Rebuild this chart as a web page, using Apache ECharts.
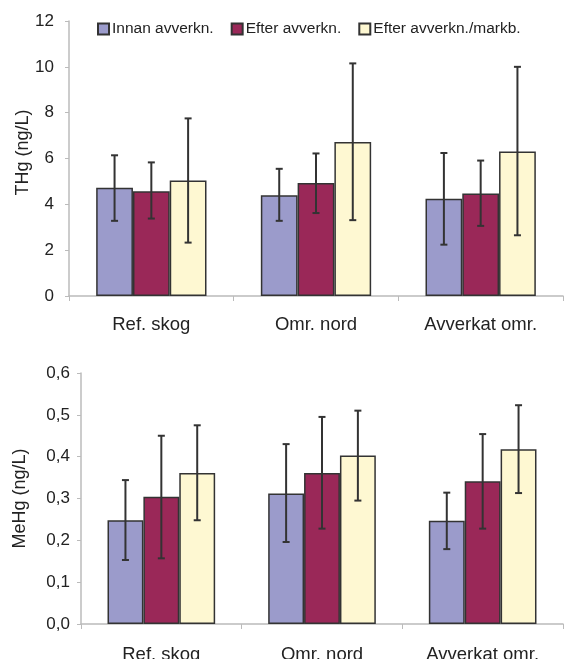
<!DOCTYPE html>
<html>
<head>
<meta charset="utf-8">
<script src="https://cdn.jsdelivr.net/npm/echarts@6/dist/echarts.min.js"></script>
<style>html,body{margin:0;padding:0;background:#fff}#c{width:576px;height:659px}</style>
</head>
<body>
<div id="c"></div>
<script>
const categories = ['Ref. skog', 'Omr. nord', 'Avverkat omr.'];
const seriesNames = ['Innan avverkn.', 'Efter avverkn.', 'Efter avverkn./markb.'];
const colors = ['#9b9bcb', '#9a2858', '#fef8d2'];

// THg (ng/L)
const thgMean = [[4.72, 4.40, 4.24], [4.57, 4.93, 4.47], [5.04, 6.72, 6.31]];
const thgLow  = [[3.28, 3.28, 2.24], [3.38, 3.62, 3.06], [2.33, 3.31, 2.65]];
const thgHigh = [[6.14, 5.55, 6.24], [5.83, 6.22, 5.91], [7.75, 10.15, 10.0]];

// MeHg (ng/L)
const mehgMean = [[0.248, 0.312, 0.247], [0.304, 0.361, 0.341], [0.361, 0.403, 0.418]];
const mehgLow  = [[0.153, 0.196, 0.179], [0.157, 0.228, 0.228], [0.248, 0.295, 0.313]];
const mehgHigh = [[0.344, 0.430, 0.314], [0.450, 0.495, 0.454], [0.475, 0.510, 0.523]];

const thgTicks = [0, 2, 4, 6, 8, 10, 12];
const mehgTicks = [0, 0.1, 0.2, 0.3, 0.4, 0.5, 0.6];

const CAT_GAP = 0.33;
const FONT = '"Liberation Sans", Arial, Helvetica, sans-serif';
const TXT = '#222';

function errSeries(gridIdx, s, low, high) {
  return {
    type: 'custom',
    xAxisIndex: gridIdx, yAxisIndex: gridIdx,
    silent: true, z: 10,
    data: categories.map((c, i) => [i, low[s][i], high[s][i]]),
    encode: { x: 0, y: [1, 2] },
    renderItem: function (params, api) {
      const i = api.value(0);
      const band = api.size([1, 0])[0];
      const bw = band * (1 - CAT_GAP) / 3;
      const cx = api.coord([i, 0])[0] + (s - 1) * bw;
      const yl = api.coord([i, api.value(1)])[1];
      const yh = api.coord([i, api.value(2)])[1];
      const hw = 3.5;
      const st = { stroke: '#333', lineWidth: 2 };
      return {
        type: 'group',
        children: [
          { type: 'line', shape: { x1: cx, y1: yl, x2: cx, y2: yh }, style: st },
          { type: 'line', shape: { x1: cx - hw, y1: yl, x2: cx + hw, y2: yl }, style: st },
          { type: 'line', shape: { x1: cx - hw, y1: yh, x2: cx + hw, y2: yh }, style: st }
        ]
      };
    }
  };
}

function barSeries(gridIdx, s, mean) {
  return {
    type: 'bar',
    name: seriesNames[s],
    xAxisIndex: gridIdx, yAxisIndex: gridIdx,
    data: mean[s],
    barGap: '0%',
    barCategoryGap: (CAT_GAP * 100) + '%',
    itemStyle: { color: colors[s], borderColor: '#333', borderWidth: 1.5 },
    silent: true
  };
}

const series = [];
for (let s = 0; s < 3; s++) series.push(barSeries(0, s, thgMean));
for (let s = 0; s < 3; s++) series.push(barSeries(1, s, mehgMean));
for (let s = 0; s < 3; s++) series.push(errSeries(0, s, thgLow, thgHigh));
for (let s = 0; s < 3; s++) series.push(errSeries(1, s, mehgLow, mehgHigh));

function xAxis(gridIdx, margin) {
  return {
    type: 'category', gridIndex: gridIdx, data: categories,
    axisLine: { lineStyle: { color: '#bbb', width: 1.5 } },
    axisTick: { show: true, length: 5, lineStyle: { color: '#bbb' } },
    axisLabel: { color: TXT, fontSize: 18.5, fontFamily: FONT, margin: margin }
  };
}
function yAxis(gridIdx, ticks, name, nameGap, labelMargin, fmt, namePad) {
  return {
    type: 'value', gridIndex: gridIdx,
    min: ticks[0], max: ticks[ticks.length - 1], interval: ticks[1] - ticks[0],
    name: name, nameLocation: 'middle', nameGap: nameGap, nameMoveOverlap: false,
    nameTextStyle: { color: TXT, fontSize: 18, fontFamily: FONT, padding: namePad },
    axisLine: { show: true, lineStyle: { color: '#bbb', width: 1.5 } },
    axisTick: { show: true, length: 4, lineStyle: { color: '#bbb' } },
    splitLine: { show: false },
    axisLabel: { color: TXT, fontSize: 17, fontFamily: FONT, margin: labelMargin, formatter: fmt }
  };
}

const chart = echarts.init(document.getElementById('c'), null, { renderer: 'canvas' });
chart.setOption({
  animation: false,
  backgroundColor: '#fff',
  legend: {
    data: seriesNames,
    left: 92, top: 16,
    itemWidth: 11, itemHeight: 11, itemGap: 17,
    icon: 'rect',
    textStyle: { color: TXT, fontSize: 15.5, fontFamily: FONT, padding: [0, 0, 0, -2] }
  },
  grid: [
    { left: 69, top: 21, width: 494, height: 275, outerBoundsMode: 'none', containLabel: false },
    { left: 81, top: 373, width: 482, height: 251, outerBoundsMode: 'none', containLabel: false }
  ],
  xAxis: [xAxis(0, 19), xAxis(1, 21)],
  yAxis: [
    yAxis(0, thgTicks, 'THg (ng/L)', 37, 15, v => String(v), [0, 0, 0, 12]),
    yAxis(1, mehgTicks, 'MeHg (ng/L)', 52, 11, v => v.toFixed(1).replace('.', ','), [0, 0, 0, 0])
  ],
  series: series
});
</script>
</body>
</html>
